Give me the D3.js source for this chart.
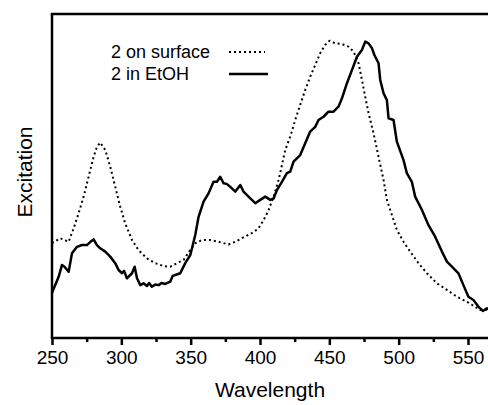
<!DOCTYPE html>
<html>
<head>
<meta charset="utf-8">
<script src="https://cdn.jsdelivr.net/npm/d3@7"></script>
<style>
  html, body { margin: 0; padding: 0; background: #fff; }
  svg { display: block; }
  text { font-family: Arial, "Liberation Sans", Helvetica, sans-serif; fill: #000; }
</style>
</head>
<body>
<svg id="chart" width="488" height="405"></svg>
<script>
// ---- data ----
const majorTicks = [250, 300, 350, 400, 450, 500, 550];
const minorTicks = [275, 325, 375, 425, 475, 525];
const seriesNames = ["2 on surface", "2 in EtOH"];

// "2 in EtOH" (solid)
const etohWavelength = [250, 254.8, 257.2, 259, 262, 264.4, 268, 271.6, 275.2, 277.5, 280, 282.4, 284.8, 288.4, 292, 295.6, 298, 300.5, 302, 304, 307.7, 309.6, 311.3, 313.7, 316, 318.5, 320, 322, 324.5, 326.9, 329, 331.7, 335.3, 337, 338.9, 342.5, 346.1, 349.7, 351, 353.3, 355.7, 359.3, 362.9, 366.5, 369, 371.3, 373.7, 376, 378.6, 382.2, 385.8, 388.1, 393, 396.6, 400.2, 403.8, 407.4, 409.8, 412.2, 415.8, 419.4, 421.8, 424.2, 429, 432.6, 436.2, 439.8, 442.2, 445.8, 449.4, 453, 456.6, 459.1, 462.7, 466.3, 469.9, 473.5, 475.9, 478.3, 480.7, 482.5, 485.5, 486.7, 489.1, 491.5, 492.7, 496.3, 498.7, 503.5, 505.9, 509.5, 511.9, 516.8, 521.5, 526.3, 531.2, 534.8, 538.4, 543.1, 546.7, 550.3, 553.9, 557.6, 560.7, 563.6, 566];
const etohValue = [0.152, 0.206, 0.246, 0.240, 0.223, 0.285, 0.307, 0.313, 0.313, 0.323, 0.332, 0.313, 0.302, 0.291, 0.274, 0.252, 0.229, 0.218, 0.226, 0.201, 0.218, 0.240, 0.201, 0.178, 0.184, 0.175, 0.185, 0.173, 0.180, 0.178, 0.185, 0.182, 0.190, 0.209, 0.212, 0.218, 0.252, 0.279, 0.303, 0.347, 0.408, 0.459, 0.487, 0.526, 0.526, 0.543, 0.521, 0.519, 0.509, 0.493, 0.515, 0.493, 0.470, 0.454, 0.465, 0.476, 0.465, 0.470, 0.498, 0.526, 0.555, 0.560, 0.594, 0.616, 0.656, 0.695, 0.711, 0.734, 0.745, 0.762, 0.762, 0.779, 0.807, 0.858, 0.902, 0.947, 0.970, 0.998, 0.992, 0.976, 0.953, 0.925, 0.869, 0.824, 0.801, 0.740, 0.734, 0.661, 0.599, 0.555, 0.526, 0.476, 0.431, 0.380, 0.341, 0.291, 0.257, 0.240, 0.218, 0.178, 0.139, 0.128, 0.105, 0.091, 0.100, 0.094];

// "2 on surface" (dotted)
const surfWavelength = [250, 256, 262, 265.6, 269.2, 272.8, 276.4, 280, 282.4, 284.8, 288.4, 292, 295.6, 299.2, 302.8, 307.7, 312.4, 318.5, 324.5, 330.5, 335.3, 340.1, 344.9, 349.7, 353.3, 358.1, 364.1, 370.1, 377.3, 382.2, 388.1, 394.1, 398.9, 402.6, 406.2, 409.8, 413.4, 415.8, 418.2, 421.8, 425.4, 429, 432.6, 436.2, 439.8, 443.4, 447, 450.2, 454.3, 459.1, 463.9, 467.5, 471.1, 473.5, 475.9, 478.3, 481.9, 485.5, 489.1, 491.5, 495.1, 498.7, 503.5, 508.3, 514.3, 520.4, 527.6, 534.8, 542, 549.2, 555.2, 558.8, 563, 566];
const surfValue = [0.319, 0.336, 0.324, 0.369, 0.420, 0.476, 0.543, 0.610, 0.644, 0.658, 0.633, 0.577, 0.509, 0.442, 0.386, 0.330, 0.296, 0.268, 0.252, 0.242, 0.240, 0.252, 0.263, 0.296, 0.319, 0.330, 0.330, 0.324, 0.315, 0.324, 0.339, 0.353, 0.369, 0.397, 0.431, 0.476, 0.532, 0.582, 0.633, 0.678, 0.734, 0.785, 0.835, 0.880, 0.919, 0.959, 0.987, 1.001, 0.992, 0.990, 0.981, 0.964, 0.925, 0.869, 0.812, 0.757, 0.689, 0.610, 0.532, 0.465, 0.414, 0.364, 0.324, 0.291, 0.252, 0.218, 0.184, 0.162, 0.139, 0.122, 0.105, 0.094, 0.094, 0.094];

// ---- drawing ----
const svg = d3.select("#chart");
const mLeft = 52, mTop = 14, mBottom = 338, mRight = 488;

const x = d3.scaleLinear().domain([250, 565]).range([mLeft, mLeft + 315 * (416 / 300)]);
const y = d3.scaleLinear().domain([0, 1.091]).range([mBottom, mTop]);

svg.append("defs").append("clipPath").attr("id", "plotclip")
  .append("rect").attr("x", mLeft).attr("y", mTop).attr("width", mRight - mLeft).attr("height", mBottom - mTop);

const etoh = etohWavelength.map((w, i) => ({ w, v: etohValue[i] }));
const surf = surfWavelength.map((w, i) => ({ w, v: surfValue[i] }));

const line = d3.line().x(d => x(d.w)).y(d => y(d.v));

const plot = svg.append("g").attr("clip-path", "url(#plotclip)");
plot.append("path").datum(surf)
  .attr("d", line).attr("fill", "none").attr("stroke", "#000")
  .attr("stroke-width", 2).attr("stroke-dasharray", "2,3").attr("stroke-linejoin", "round");
plot.append("path").datum(etoh)
  .attr("d", line).attr("fill", "none").attr("stroke", "#000")
  .attr("stroke-width", 2.5).attr("stroke-linejoin", "round");

// frame: top and left
svg.append("line").attr("x1", mLeft - 1.25).attr("x2", mRight).attr("y1", mTop).attr("y2", mTop)
  .attr("stroke", "#000").attr("stroke-width", 2.5);
svg.append("line").attr("x1", mLeft).attr("x2", mLeft).attr("y1", mTop).attr("y2", mBottom)
  .attr("stroke", "#000").attr("stroke-width", 2.5);

// bottom axis
const xAxis = d3.axisBottom(x).tickValues(majorTicks).tickSize(7).tickSizeOuter(0).tickPadding(6).tickFormat(d3.format("d"));
const gx = svg.append("g").attr("transform", `translate(0,${mBottom})`).call(xAxis);
gx.select(".domain").remove();
gx.selectAll(".tick line").attr("stroke", "#000").attr("stroke-width", 2.5);
gx.selectAll(".tick text").attr("font-size", 19).attr("font-family", "Arial, 'Liberation Sans', sans-serif").attr("fill", "#000");
const gm = svg.append("g").attr("transform", `translate(0,${mBottom})`)
  .call(d3.axisBottom(x).tickValues(minorTicks).tickSize(4).tickSizeOuter(0).tickFormat(""));
gm.select(".domain").remove();
gm.selectAll(".tick line").attr("stroke", "#000").attr("stroke-width", 2.5);
svg.append("line").attr("x1", mLeft - 1.25).attr("x2", mRight).attr("y1", mBottom).attr("y2", mBottom)
  .attr("stroke", "#000").attr("stroke-width", 2.5);

// axis titles
svg.append("text").attr("x", 270).attr("y", 397).attr("text-anchor", "middle")
  .attr("font-size", 21).text("Wavelength");
svg.append("text").attr("transform", "translate(32,172) rotate(-90)").attr("text-anchor", "middle")
  .attr("font-size", 21).text("Excitation");

// legend
const legend = svg.append("g");
const legendRows = [
  { name: seriesNames[0], dash: "2,3", width: 2, y: 52, x2: 265 },
  { name: seriesNames[1], dash: null, width: 2.5, y: 74, x2: 268 }
];
legendRows.forEach(r => {
  legend.append("text").attr("x", 111).attr("y", r.y + 6).attr("font-size", 18).text(r.name);
  legend.append("line").attr("x1", 229).attr("x2", r.x2).attr("y1", r.y).attr("y2", r.y)
    .attr("stroke", "#000").attr("stroke-width", r.width)
    .attr("stroke-dasharray", r.dash);
});
</script>
</body>
</html>
